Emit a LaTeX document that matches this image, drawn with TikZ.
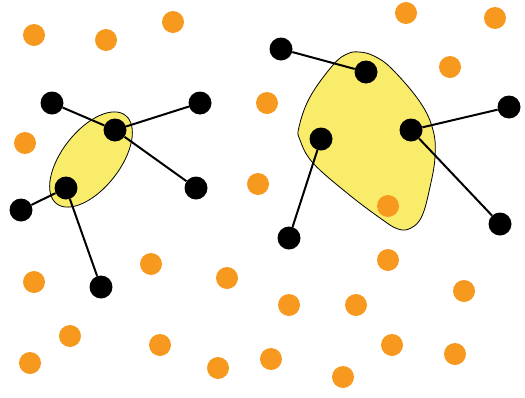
\documentclass[tikz,border=0pt]{standalone}
\definecolor{dotorange}{HTML}{F7981F}
\definecolor{blobyellow}{HTML}{F9EC6B}
\begin{document}
\begin{tikzpicture}[x=1pt,y=-1pt,
  odot/.style={circle,fill=dotorange,draw=none,minimum size=22pt,inner sep=0pt},
  bdot/.style={circle,fill=black,draw=none,minimum size=23pt,inner sep=0pt},
  link/.style={line width=2pt},
  blob/.style={fill=blobyellow,draw=black,line width=0.8pt}]
\useasboundingbox (0,0) rectangle (525,397);
% yellow regions
\draw[blob] (91,159.5) ellipse[x radius=56, y radius=29, rotate=52];
\draw[blob] plot[smooth cycle, tension=0.65] coordinates {
  (359,52) (374,56) (392,69) (420,102) (433,130) (435,157) (430,187) (422,216)
  (411,228) (398,229) (380,218) (347,193) (313,163) (300,140) (299,127)
  (310,97) (333,65) (347,54)};
% orange dots
\foreach \x/\y [count=\i] in {34/35,106/40,173/22,406/13,495/18,450/67,267/103,25/143,
  258/184,388/206,388/260,151/264,227/278,34/282,289/305,356/305,464/291,70/336,
  160/345,30/363,218/368,271/359,392/345,455/354,343/377}
  \node[odot] (o\i) at (\x,\y) {};
% black dots
\node[bdot] (a1) at (52,103) {};
\node[bdot] (a2) at (115,130) {};
\node[bdot] (a3) at (200,103) {};
\node[bdot] (a4) at (196,188) {};
\node[bdot] (a5) at (66,188) {};
\node[bdot] (a6) at (21,210) {};
\node[bdot] (a7) at (101,287) {};
\node[bdot] (b1) at (281,49) {};
\node[bdot] (b2) at (366,72) {};
\node[bdot] (b3) at (321,139) {};
\node[bdot] (b4) at (411,130) {};
\node[bdot] (b5) at (509,107) {};
\node[bdot] (b6) at (500,224) {};
\node[bdot] (b7) at (289,238) {};
% links
\draw[link] (a1) -- (a2);
\draw[link] (a2) -- (a3);
\draw[link] (a2) -- (a4);
\draw[link] (a5) -- (a6);
\draw[link] (a5) -- (a7);
\draw[link] (b1) -- (b2);
\draw[link] (b3) -- (b7);
\draw[link] (b4) -- (b5);
\draw[link] (b4) -- (b6);
\end{tikzpicture}
\end{document}
